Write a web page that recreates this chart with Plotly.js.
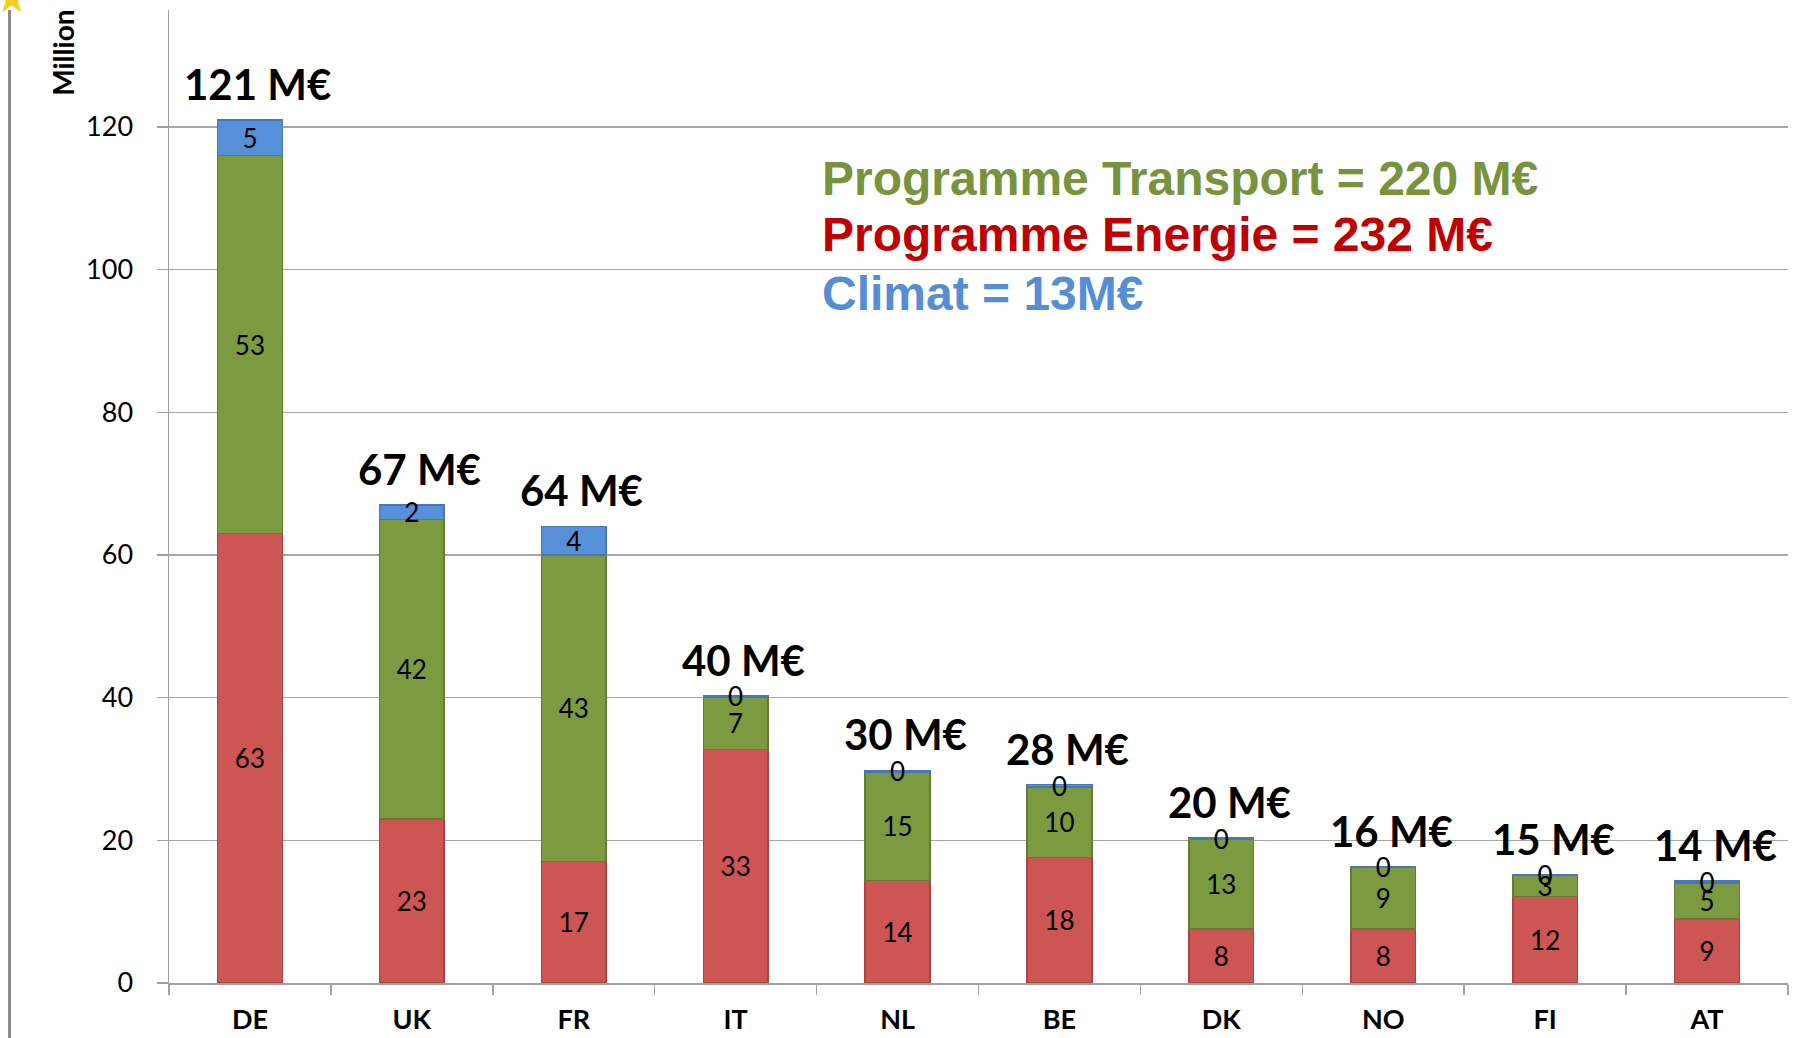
<!DOCTYPE html>
<html>
<head>
<meta charset="utf-8">
<script src="https://cdn.plot.ly/plotly-3.0.1.min.js"></script>
<style>
  html, body { margin: 0; padding: 0; background: #ffffff; }
  #chart { width: 1800px; height: 1038px; position: relative; }
  #frame { position: absolute; left: 8px; top: 10px; width: 3px; height: 1028px; background: #8c8c8c; z-index: 5; }
</style>
</head>
<body>
<div id="chart"></div>
<div id="frame"></div>
<script>
// ---- data (million EUR) ----
const countries = ['DE', 'UK', 'FR', 'IT', 'NL', 'BE', 'DK', 'NO', 'FI', 'AT'];
const energie   = [63, 23, 17, 32.7, 14.4, 17.6, 7.6, 7.6, 12.1, 9.0];
const transport = [53, 42, 43, 7.4, 15.2, 9.9, 12.6, 8.6, 3.0, 5.0];
const climat    = [5, 2, 4, 0.2, 0.2, 0.3, 0.1, 0.1, 0.1, 0.3];
const yTicks    = [0, 20, 40, 60, 80, 100, 120];
const summaryLines = [
  {text: 'Programme Transport = 220 M€', color: '#77933C'},
  {text: 'Programme Energie = 232 M€',   color: '#C00000'},
  {text: 'Climat = 13M€',                color: '#558ED5'}
];
const axisTitle = 'Million';

const totals = countries.map((c, i) => energie[i] + transport[i] + climat[i]);

const labelFont = {family: 'Lato, "Open Sans", sans-serif', size: 26, color: '#000000'};

function barTrace(name, values, fill, edge) {
  return {
    type: 'bar', name: name, x: countries, y: values,
    marker: {color: fill, line: {color: edge, width: 1.5}},
    text: values.map(v => Math.round(v).toString()),
    textposition: 'inside', insidetextanchor: 'middle', textangle: 0,
    textfont: labelFont, insidetextfont: labelFont,
    constraintext: 'none', cliponaxis: false,
    hoverinfo: 'skip'
  };
}

const data = [
  barTrace('Energie', energie, '#CD5553', '#A94442'),
  barTrace('Transport', transport, '#7C9A3F', '#637C31'),
  barTrace('Climat', climat, '#5690D9', '#4777B4')
];

const annotations = [];
countries.forEach((c, i) => {
  annotations.push({
    x: c, y: totals[i], xref: 'x', yref: 'y',
    text: Math.round(totals[i]) + ' M€', showarrow: false,
    xanchor: 'center', yanchor: 'middle', xshift: 8, yshift: 36,
    font: {family: 'Lato, "Open Sans", sans-serif', size: 42, color: '#000000', weight: 'bold'}
  });
});
const lineY = [0.827, 0.769, 0.709];
summaryLines.forEach((s, k) => {
  annotations.push({
    x: 0.402, y: lineY[k], xref: 'paper', yref: 'paper',
    text: '<b>' + s.text + '</b>', showarrow: false,
    xanchor: 'left', yanchor: 'middle',
    font: {family: '"Liberation Sans", Arial, sans-serif', size: 48, color: s.color}
  });
});
annotations.push({
  x: -0.0655, y: 0.956, xref: 'paper', yref: 'paper',
  text: '<b>' + axisTitle + '</b>', showarrow: false, textangle: -90,
  xanchor: 'center', yanchor: 'middle',
  font: {family: 'Lato, "Open Sans", sans-serif', size: 28, color: '#000000'}
});
annotations.push({
  x: -0.097, y: 1.012, xref: 'paper', yref: 'paper',
  text: '★', showarrow: false, xanchor: 'center', yanchor: 'middle',
  font: {family: '"DejaVu Sans", sans-serif', size: 40, color: '#F2CF1D'}
});

const layout = {
  width: 1800, height: 1038,
  margin: {l: 169, r: 12, t: 10, b: 55, pad: 0},
  paper_bgcolor: '#ffffff', plot_bgcolor: '#ffffff',
  barmode: 'stack', bargap: 0.6,
  showlegend: false,
  uniformtext: {mode: 'show', minsize: 26},
  xaxis: {
    type: 'category', tickson: 'boundaries', ticks: 'outside', ticklen: 10,
    tickcolor: '#A0A0A0', tickwidth: 1.5,
    showline: true, linecolor: '#A0A0A0', linewidth: 1.5,
    showgrid: false, zeroline: false,
    ticklabelstandoff: 12,
    tickfont: {family: 'Lato, "Open Sans", sans-serif', size: 27, color: '#000000', weight: 'bold'}
  },
  yaxis: {
    range: [0, 136.4], tickvals: yTicks, ticktext: yTicks.map(String),
    ticks: 'outside', ticklen: 11, tickcolor: '#A0A0A0', tickwidth: 1.5,
    showline: true, linecolor: '#A0A0A0', linewidth: 1.5,
    showgrid: true, gridcolor: '#A6A6A6', gridwidth: 1.3, zeroline: false,
    ticklabelstandoff: 18,
    tickfont: {family: 'Lato, "Open Sans", sans-serif', size: 27, color: '#000000'}
  },
  annotations: annotations
};

Plotly.newPlot('chart', data, layout, {displayModeBar: false, staticPlot: true});
</script>
</body>
</html>
